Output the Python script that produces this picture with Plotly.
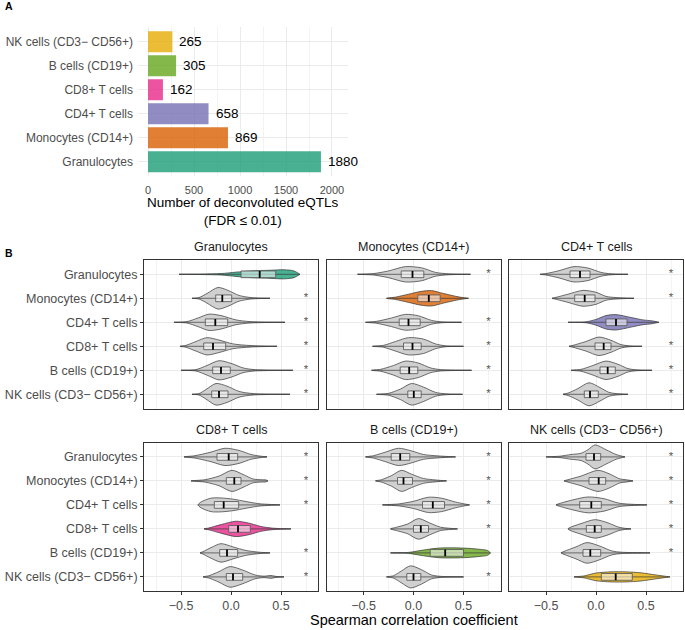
import plotly.graph_objects as go

# ---------------- data ----------------
cell_types = ["Granulocytes", "Monocytes (CD14+)", "CD4+ T cells",
              "CD8+ T cells", "B cells (CD19+)", "NK cells (CD3\u2212 CD56+)"]
eqtl_counts = [1880, 869, 658, 162, 305, 265]
dark2 = ["#1B9E77", "#D95F02", "#7570B3", "#E7298A", "#66A61E", "#E6AB02"]
count_ticks = [0, 500, 1000, 1500, 2000]
count_minor = [250, 750, 1250, 1750]
rho_ticks = [-0.5, 0.0, 0.5]
rho_minor = [-0.75, -0.25, 0.25, 0.75]
star_x = 0.75

# box stats (q1, median, q3) per compared cell type (rows in cell_types order)
box_gran = [(0.10, 0.287, 0.447), (-0.153, -0.087, 0.007), (-0.257, -0.157, -0.033),
            (-0.273, -0.18, -0.053), (-0.183, -0.10, -0.007), (-0.193, -0.12, -0.03)]
box_mono = [(-0.123, -0.01, 0.103), (0.043, 0.153, 0.267), (-0.143, -0.05, 0.067),
            (-0.10, -0.01, 0.077), (-0.133, -0.043, 0.043), (-0.057, 0.003, 0.077)]
box_cd4 = [(-0.26, -0.16, -0.06), (-0.213, -0.113, -0.01), (0.10, 0.20, 0.31),
           (-0.01, 0.077, 0.15), (0.04, 0.117, 0.193), (-0.117, -0.06, 0.023)]
box_cd8 = [(-0.14, -0.023, 0.067), (-0.047, 0.033, 0.10), (-0.167, -0.073, 0.077),
           (-0.023, 0.07, 0.193), (-0.113, -0.04, 0.067), (-0.047, 0.02, 0.117)]
box_b = [(-0.223, -0.133, -0.037), (-0.16, -0.10, -0.01), (0.09, 0.193, 0.31),
         (0.0, 0.073, 0.15), (0.167, 0.317, 0.50), (-0.067, 0.0, 0.073)]
box_nk = [(-0.10, -0.02, 0.047), (-0.07, 0.027, 0.097), (-0.163, -0.047, 0.053),
          (-0.097, -0.013, 0.053), (-0.13, -0.057, 0.047), (0.053, 0.197, 0.363)]

# violin outlines: (correlation, half width in row units)
shape_gran = [
    [(-0.52, 0), (-0.3, 0.01), (-0.1, 0.03), (0.05, 0.09), (0.2, 0.14), (0.4, 0.17), (0.53, 0.19), (0.63, 0.14), (0.69, 0)],
    [(-0.39, 0), (-0.32, 0.03), (-0.24, 0.2), (-0.13, 0.45), (-0.03, 0.33), (0.08, 0.12), (0.2, 0.03), (0.39, 0)],
    [(-0.57, 0), (-0.44, 0.03), (-0.33, 0.18), (-0.22, 0.34), (-0.1, 0.28), (0.05, 0.1), (0.19, 0.03), (0.54, 0)],
    [(-0.51, 0), (-0.45, 0.04), (-0.35, 0.2), (-0.24, 0.36), (-0.12, 0.26), (0.02, 0.1), (0.2, 0.03), (0.46, 0)],
    [(-0.50, 0), (-0.35, 0.03), (-0.24, 0.2), (-0.12, 0.4), (0.0, 0.29), (0.12, 0.1), (0.23, 0.03), (0.62, 0)],
    [(-0.39, 0), (-0.32, 0.03), (-0.25, 0.2), (-0.15, 0.45), (-0.04, 0.34), (0.08, 0.12), (0.22, 0.03), (0.59, 0)],
]
shape_mono = [
    [(-0.56, 0), (-0.4, 0.03), (-0.25, 0.14), (-0.08, 0.32), (0.08, 0.27), (0.22, 0.08), (0.35, 0.02), (0.57, 0)],
    [(-0.27, 0), (-0.18, 0.05), (-0.05, 0.17), (0.08, 0.29), (0.18, 0.32), (0.3, 0.2), (0.45, 0.06), (0.55, 0)],
    [(-0.48, 0), (-0.37, 0.04), (-0.22, 0.18), (-0.08, 0.33), (0.05, 0.27), (0.18, 0.08), (0.28, 0.02), (0.48, 0)],
    [(-0.41, 0), (-0.3, 0.04), (-0.18, 0.2), (-0.05, 0.36), (0.1, 0.3), (0.22, 0.1), (0.32, 0.02), (0.50, 0)],
    [(-0.42, 0), (-0.33, 0.04), (-0.2, 0.2), (-0.08, 0.385), (0.05, 0.3), (0.17, 0.1), (0.27, 0.03), (0.58, 0)],
    [(-0.37, 0), (-0.25, 0.04), (-0.13, 0.22), (-0.02, 0.45), (0.1, 0.3), (0.22, 0.08), (0.32, 0.02), (0.49, 0)],
]
shape_cd4 = [
    [(-0.56, 0), (-0.5, 0.03), (-0.37, 0.15), (-0.22, 0.32), (-0.08, 0.26), (0.05, 0.08), (0.15, 0.02), (0.32, 0)],
    [(-0.44, 0), (-0.4, 0.04), (-0.28, 0.17), (-0.13, 0.33), (0.0, 0.25), (0.1, 0.08), (0.2, 0.03), (0.38, 0)],
    [(-0.28, 0), (-0.1, 0.02), (0.0, 0.12), (0.1, 0.28), (0.2, 0.32), (0.35, 0.2), (0.47, 0.1), (0.56, 0.06), (0.63, 0)],
    [(-0.27, 0), (-0.23, 0.04), (-0.1, 0.2), (0.03, 0.385), (0.15, 0.25), (0.25, 0.07), (0.33, 0.02), (0.46, 0)],
    [(-0.25, 0), (-0.15, 0.04), (-0.03, 0.2), (0.1, 0.385), (0.22, 0.25), (0.32, 0.07), (0.4, 0.02), (0.56, 0)],
    [(-0.33, 0), (-0.28, 0.05), (-0.18, 0.24), (-0.07, 0.48), (0.04, 0.28), (0.13, 0.08), (0.2, 0.03), (0.32, 0)],
]
shape_cd8 = [
    [(-0.47, 0), (-0.36, 0.05), (-0.2, 0.2), (-0.06, 0.36), (0.08, 0.27), (0.2, 0.1), (0.28, 0.04), (0.36, 0)],
    [(-0.40, 0), (-0.26, 0.05), (-0.12, 0.2), (0.01, 0.44), (0.12, 0.27), (0.22, 0.08), (0.3, 0.05), (0.35, 0.04), (0.37, 0)],
    [(-0.33, 0), (-0.3, 0.12), (-0.2, 0.28), (-0.1, 0.29), (0.02, 0.24), (0.15, 0.14), (0.28, 0.05), (0.49, 0)],
    [(-0.27, 0), (-0.22, 0.04), (-0.1, 0.18), (0.05, 0.32), (0.18, 0.24), (0.3, 0.1), (0.42, 0.03), (0.60, 0)],
    [(-0.31, 0), (-0.28, 0.05), (-0.2, 0.22), (-0.1, 0.385), (0.02, 0.25), (0.15, 0.1), (0.28, 0.03), (0.39, 0)],
    [(-0.28, 0), (-0.22, 0.05), (-0.12, 0.22), (-0.01, 0.43), (0.12, 0.28), (0.24, 0.08), (0.33, 0.03), (0.40, 0.06), (0.45, 0.02), (0.53, 0)],
]
shape_b = [
    [(-0.48, 0), (-0.4, 0.05), (-0.28, 0.2), (-0.15, 0.36), (-0.02, 0.25), (0.1, 0.1), (0.25, 0.04), (0.42, 0)],
    [(-0.38, 0), (-0.32, 0.05), (-0.22, 0.22), (-0.12, 0.44), (-0.02, 0.28), (0.1, 0.1), (0.22, 0.04), (0.33, 0)],
    [(-0.31, 0), (-0.15, 0.04), (0.0, 0.15), (0.15, 0.32), (0.28, 0.28), (0.42, 0.12), (0.5, 0.05), (0.56, 0)],
    [(-0.23, 0), (-0.17, 0.07), (-0.06, 0.2), (0.05, 0.43), (0.16, 0.25), (0.27, 0.07), (0.35, 0.03), (0.44, 0)],
    [(-0.23, 0), (-0.05, 0.02), (0.1, 0.12), (0.25, 0.2), (0.4, 0.21), (0.55, 0.19), (0.68, 0.14), (0.74, 0.1), (0.77, 0)],
    [(-0.27, 0), (-0.2, 0.05), (-0.12, 0.25), (-0.03, 0.46), (0.08, 0.3), (0.18, 0.08), (0.28, 0.02), (0.50, 0)],
]
shape_nk = [
    [(-0.50, 0), (-0.36, 0.03), (-0.25, 0.1), (-0.15, 0.15), (-0.08, 0.3), (-0.01, 0.5), (0.1, 0.3), (0.2, 0.1), (0.29, 0)],
    [(-0.32, 0), (-0.28, 0.05), (-0.15, 0.2), (0.02, 0.44), (0.13, 0.3), (0.24, 0.08), (0.3, 0.05), (0.37, 0)],
    [(-0.40, 0), (-0.37, 0.05), (-0.22, 0.22), (-0.08, 0.33), (0.08, 0.26), (0.22, 0.08), (0.3, 0.04), (0.51, 0)],
    [(-0.28, 0), (-0.26, 0.06), (-0.15, 0.22), (-0.01, 0.385), (0.12, 0.25), (0.22, 0.08), (0.28, 0.03), (0.35, 0)],
    [(-0.35, 0), (-0.32, 0.06), (-0.2, 0.25), (-0.09, 0.43), (0.04, 0.28), (0.16, 0.08), (0.25, 0.03), (0.54, 0)],
    [(-0.22, 0), (-0.12, 0.04), (0.0, 0.16), (0.15, 0.21), (0.3, 0.21), (0.45, 0.17), (0.6, 0.08), (0.74, 0)],
]

panel_boxes = [box_gran, box_mono, box_cd4, box_cd8, box_b, box_nk]
panel_shapes = [shape_gran, shape_mono, shape_cd4, shape_cd8, shape_b, shape_nk]

# ---------------- styling / layout ----------------
W, H = 685, 630
FONT = "Liberation Sans, Arial, Helvetica, sans-serif"
AX_TXT = "#4D4D4D"
GRID = "#EBEBEB"
GRID_MINOR = "#F3F3F3"
BOX_HALF = 0.14   # half height of the inner boxes, in row units


def rgba(hex_color, a):
    h = hex_color.lstrip("#")
    return "rgba(%d,%d,%d,%s)" % (int(h[0:2], 16), int(h[2:4], 16), int(h[4:6], 16), a)


def xdom(left, right):
    return [left / W, right / W]


def ydom(top, bottom):
    return [1 - bottom / H, 1 - top / H]


fig = go.Figure()
layout = dict(
    width=W, height=H, margin=dict(l=0, r=0, t=0, b=0),
    paper_bgcolor="white", plot_bgcolor="white", showlegend=False,
    font=dict(family=FONT, color="#1A1A1A"),
)
annotations = []

# ---- Panel A ----
ypos_a = list(range(len(cell_types)))
fig.add_trace(go.Bar(
    x=eqtl_counts, y=ypos_a, orientation="h", width=0.88,
    marker=dict(color=[rgba(c, 0.8) for c in dark2], line=dict(width=0)),
    hoverinfo="skip", xaxis="x", yaxis="y",
))
for yv, v in zip(ypos_a, eqtl_counts):
    annotations.append(dict(x=v, y=yv, xref="x", yref="y", text=str(v), showarrow=False,
                            xanchor="left", yanchor="middle", xshift=5,
                            font=dict(size=13.5, color="black", family=FONT)))
layout["xaxis"] = dict(
    domain=xdom(138, 348), anchor="y", range=[-109, 2174],
    tickvals=count_ticks, tickfont=dict(size=11, color=AX_TXT), ticks="",
    ticklabelstandoff=6,
    showgrid=True, gridcolor=GRID, gridwidth=1, zeroline=False, showline=False,
    minor=dict(tickvals=count_minor, showgrid=True, gridcolor=GRID_MINOR, gridwidth=0.6, ticks=""),
)
layout["yaxis"] = dict(
    domain=ydom(27.3, 176.1), anchor="x", range=[-0.6, 5.6],
    tickvals=ypos_a, ticktext=cell_types, tickfont=dict(size=12, color=AX_TXT),
    ticks="", ticklabelstandoff=4,
    showgrid=True, gridcolor=GRID, gridwidth=1, zeroline=False, showline=False,
)
annotations.append(dict(x=243 / W, y=1 - 211.5 / H, xref="paper", yref="paper",
                        text="Number of deconvoluted eQTLs<br>(FDR \u2264 0.01)", showarrow=False,
                        xanchor="center", yanchor="middle", align="center",
                        font=dict(size=13.5, color="black", family=FONT)))

# ---- Panel B ----
col_px = [(144, 318), (326.5, 500.5), (509, 683)]
row_px = [(259.9, 408.7), (442.5, 591.3)]
title_y = [247, 430]

for k in range(6):
    r, c = divmod(k, 3)
    n = k + 2
    xa, ya = "x%d" % n, "y%d" % n
    boxes = panel_boxes[k]
    shapes = panel_shapes[k]

    # violins
    for i, knots in enumerate(shapes):
        xs = [p[0] for p in knots]
        ws = [p[1] for p in knots]
        px = xs + xs[::-1]
        py = [i - w for w in ws] + [i + w for w in ws[::-1]]
        fill = rgba(dark2[k], 0.8) if i == k else "rgba(205,205,205,0.95)"
        fig.add_trace(go.Scatter(
            x=px, y=py, mode="lines", fill="toself", fillcolor=fill,
            line=dict(color="#333333", width=0.7, shape="spline", smoothing=0.8),
            hoverinfo="skip", xaxis=xa, yaxis=ya,
        ))

    # whisker line through each violin
    wx, wy = [], []
    for i, knots in enumerate(shapes):
        wx += [knots[0][0], knots[-1][0], None]
        wy += [i, i, None]
    fig.add_trace(go.Scatter(x=wx, y=wy, mode="lines", line=dict(color="#3A3A3A", width=0.7),
                             hoverinfo="skip", xaxis=xa, yaxis=ya))

    # inner boxes (q1..q3)
    bx, by = [], []
    for i, (q1, med, q3) in enumerate(boxes):
        bx += [q1, q3, q3, q1, q1, None]
        by += [i - BOX_HALF, i - BOX_HALF, i + BOX_HALF, i + BOX_HALF, i - BOX_HALF, None]
    fig.add_trace(go.Scatter(x=bx, y=by, mode="lines", fill="toself",
                             fillcolor="rgba(255,255,255,0.55)",
                             line=dict(color="#5E5E5E", width=0.9),
                             hoverinfo="skip", xaxis=xa, yaxis=ya))

    # medians
    mx, my = [], []
    for i, (q1, med, q3) in enumerate(boxes):
        mx += [med, med, None]
        my += [i - BOX_HALF, i + BOX_HALF, None]
    fig.add_trace(go.Scatter(x=mx, y=my, mode="lines", line=dict(color="black", width=1.8),
                             hoverinfo="skip", xaxis=xa, yaxis=ya))

    # significance stars
    star_rows = [i for i in range(6) if i != k]
    fig.add_trace(go.Scatter(
        x=[star_x] * len(star_rows), y=star_rows, mode="text", text=["*"] * len(star_rows),
        textfont=dict(size=11.5, color="#595959", family=FONT),
        hoverinfo="skip", xaxis=xa, yaxis=ya,
    ))

    bottom = (r == 1)
    left = (c == 0)
    layout["xaxis%d" % n] = dict(
        domain=xdom(*col_px[c]), anchor=ya, range=[-0.87, 0.87],
        tickvals=rho_ticks, tickformat=".1f",
        showticklabels=bottom, ticks="outside" if bottom else "", ticklen=3,
        tickcolor="#333333", tickfont=dict(size=12.5, color=AX_TXT),
        showgrid=True, gridcolor=GRID, gridwidth=1, zeroline=False,
        showline=True, mirror=True, linecolor="#333333", linewidth=0.9,
        minor=dict(tickvals=rho_minor, showgrid=True, gridcolor=GRID_MINOR, gridwidth=0.6, ticks=""),
    )
    layout["yaxis%d" % n] = dict(
        domain=ydom(*row_px[r]), anchor=xa, range=[5.6, -0.6],
        tickvals=list(range(6)), ticktext=cell_types,
        showticklabels=left, ticks="outside" if left else "", ticklen=3,
        tickcolor="#333333", tickfont=dict(size=12.5, color=AX_TXT),
        showgrid=True, gridcolor=GRID, gridwidth=1, zeroline=False,
        showline=True, mirror=True, linecolor="#333333", linewidth=0.9,
    )
    annotations.append(dict(x=(col_px[c][0] + col_px[c][1]) / 2 / W, y=1 - title_y[r] / H,
                            xref="paper", yref="paper", text=cell_types[k], showarrow=False,
                            xanchor="center", yanchor="middle",
                            font=dict(size=12.5, color="#1A1A1A", family=FONT)))

annotations.append(dict(x=413.5 / W, y=1 - 620 / H, xref="paper", yref="paper",
                        text="Spearman correlation coefficient", showarrow=False,
                        xanchor="center", yanchor="middle",
                        font=dict(size=14.5, color="black", family=FONT)))
annotations.append(dict(x=3 / W, y=1 - 6.5 / H, xref="paper", yref="paper", text="<b>A</b>",
                        showarrow=False, xanchor="left", yanchor="middle",
                        font=dict(size=10.5, color="black", family=FONT)))
annotations.append(dict(x=3 / W, y=1 - 253 / H, xref="paper", yref="paper", text="<b>B</b>",
                        showarrow=False, xanchor="left", yanchor="middle",
                        font=dict(size=10.5, color="black", family=FONT)))

layout["annotations"] = annotations
fig.update_layout(**layout)
# the page's default 8px body margin would push the 685x630 figure out of the window
fig.write_html("out.html", config={"displayModeBar": False},
               post_script="document.body.style.margin='0px';")
